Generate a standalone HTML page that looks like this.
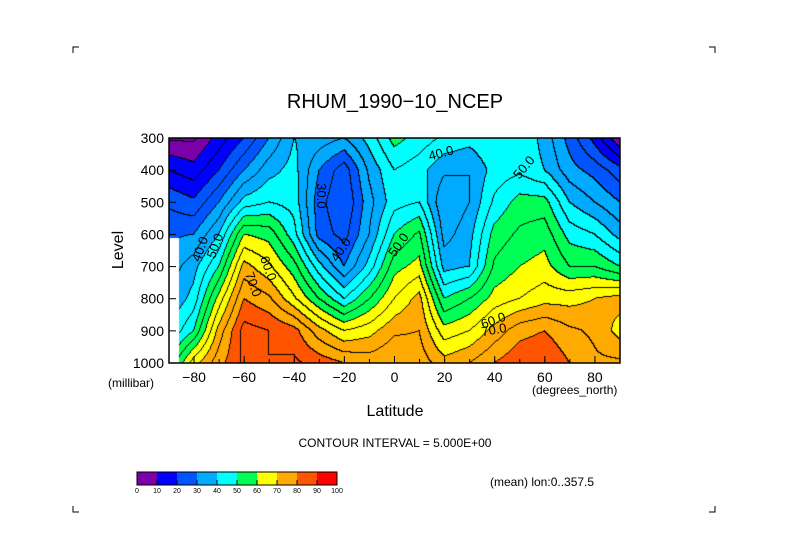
<!DOCTYPE html>
<html><head><meta charset="utf-8"><style>
body{margin:0;background:#fff;width:789px;height:558px;overflow:hidden;font-family:"Liberation Sans",sans-serif}
#wrap{position:relative;width:789px;height:558px}
canvas{position:absolute;left:169px;top:138px}
svg{position:absolute;left:0;top:0}
</style></head><body>
<div id="wrap">
<canvas id="cv" width="451" height="225"></canvas>
<svg id="sv" width="789" height="558"></svg>
</div>
<script>
const lats=[-90,-80,-70,-60,-50,-40,-30,-20,-10,0,10,20,30,40,50,60,70,80,90];
const levels=[300,400,500,600,700,800,900,1000];
// rhum[latIndex][levelIndex]
const rhum=[
[4,15,24,29,32,35,40,50],
[4,12,21,30,38,42,50,68],
[12,20,30,40,50,62,72,78],
[20,30,42,60,72,80,87,86],
[30,38,45,58,66,76,85,85],
[40,42,43,47,57,66,82,86],
[38,30,27,28,42,55,72,83],
[35,22,20,23,30,45,65,80],
[42,36,33,35,42,55,68,78],
[52,45,43,50,58,65,74,80],
[48,42,45,56,62,72,75,78],
[44,36,30,33,38,50,62,72],
[42,35,35,38,40,55,65,75],
[45,42,46,52,56,62,72,80],
[45,44,52,56,60,65,78,84],
[38,40,52,58,62,68,80,85],
[28,32,40,48,55,68,76,80],
[18,28,35,45,55,70,74,76],
[5,22,30,38,50,72,68,76]];
const colorbarTicks=[0,10,20,30,40,50,60,70,80,90,100];
const xTicks=[-80,-60,-40,-20,0,20,40,60,80];
const yTicks=[300,400,500,600,700,800,900,1000];
const maskLat=-86, maskLev=610;
const colors=['#7c00aa','#0000ff','#0055ff','#00aaff','#00ffff','#00ff55','#ffff00','#ffaa00','#ff5500','#ff0000'];
const X0=169,X1=620,Y0=138,Y1=363;
const xs=l=>X0+(l+90)/180*(X1-X0);
const ys=p=>Y0+(p-300)/700*(Y1-Y0);
function val(lat,p){
  let i=Math.min(lats.length-2,Math.max(0,Math.floor((lat-lats[0])/10)));
  let j=Math.min(levels.length-2,Math.max(0,Math.floor((p-levels[0])/100)));
  let tx=(lat-lats[i])/10, ty=(p-levels[j])/100;
  return rhum[i][j]*(1-tx)*(1-ty)+rhum[i+1][j]*tx*(1-ty)+rhum[i][j+1]*(1-tx)*ty+rhum[i+1][j+1]*tx*ty;
}
const cv=document.getElementById('cv'),ctx=cv.getContext('2d');
const W=cv.width,H=cv.height;
const img=ctx.createImageData(W,H);
const band5=new Int16Array(W*H);
for(let y=0;y<H;y++)for(let x=0;x<W;x++){
  const lat=-90+(x+0.5)/W*180,p=300+(y+0.5)/H*700;
  const k=y*W+x;
  if(lat<maskLat&&p>maskLev){band5[k]=-1;continue;}
  const v=val(lat,p);band5[k]=Math.floor(v/5);
}
for(let y=0;y<H;y++)for(let x=0;x<W;x++){
  const k=y*W+x,b=band5[k];let c=[255,255,255];
  if(b>=0){
    const ci=Math.max(0,Math.min(9,Math.floor(b/2)));const h=colors[ci];
    c=[parseInt(h.substr(1,2),16),parseInt(h.substr(3,2),16),parseInt(h.substr(5,2),16)];
    if((x+1<W&&band5[k+1]>=0&&band5[k+1]!==b)||(y+1<H&&band5[k+W]>=0&&band5[k+W]!==b))c=[0,0,0];
  }
  img.data[k*4]=c[0];img.data[k*4+1]=c[1];img.data[k*4+2]=c[2];img.data[k*4+3]=255;
}
ctx.putImageData(img,0,0);
const sv=document.getElementById('sv');const NS='http://www.w3.org/2000/svg';
function el(t,a,txt){const e=document.createElementNS(NS,t);for(const k in a)e.setAttribute(k,a[k]);if(txt!==undefined)e.textContent=txt;sv.appendChild(e);return e;}
let e;
e=el('rect',{x:X0,y:Y0,width:X1-X0,height:Y1-Y0,fill:'none',stroke:'#000','stroke-width':1.5});

xTicks.forEach(t=>{
  e=el('line',{x1:xs(t),x2:xs(t),y1:Y1,y2:Y1-7,stroke:'#000'});
  e=el('text',{x:xs(t),y:Y1+19,'text-anchor':'middle','font-size':14},String(t).replace('-','\u2212'));
  
});
for(let t=-90;t<=90;t+=10){e=el('line',{x1:xs(t),x2:xs(t),y1:Y1,y2:Y1-4,stroke:'#000'});}
yTicks.forEach(t=>{
  e=el('line',{x1:X0,x2:X0+7,y1:ys(t),y2:ys(t),stroke:'#000'});
  e=el('text',{x:X0-5,y:ys(t)+5,'text-anchor':'end','font-size':14},String(t));
  
});
[['30.0',-31,480,90],['40.0',-76,650,-70],['50.0',-70,640,-70],['40.0',-20,655,-55],['50.0',3,640,-55],['60.0',-52,710,70],['70.0',-58,760,70],['40.0',19,360,-15],['50.0',53,400,-50],['60.0',40,880,-20],['70.0',40,910,-10]].forEach(l=>{
  const x=xs(l[1]),y=ys(l[2]);
  e=el('text',{x:x,y:y,'font-size':13,'text-anchor':'middle',transform:`rotate(${l[3]} ${x} ${y})`},l[0]);
  
});
const CB0=137,CB1=337;
for(let i=0;i<10;i++){
  e=el('rect',{x:CB0+i*(CB1-CB0)/10,y:472,width:(CB1-CB0)/10,height:13,fill:colors[i]});
  
}
e=el('rect',{x:CB0,y:472,width:CB1-CB0,height:13,fill:'none',stroke:'#000'});
colorbarTicks.forEach((t,i)=>{
  const x=CB0+i*(CB1-CB0)/10;
  e=el('line',{x1:x,x2:x,y1:480,y2:485,stroke:'#000'});
  e=el('text',{x:x,y:493,'text-anchor':'middle','font-size':7},String(t));
});
[['RHUM_1990\u221210_NCEP',395,108,20,'middle','title'],['(millibar)',108,387,12,'start','y-axis-units'],['(degrees_north)',532,394,12,'start','x-axis-units'],['Latitude',395,416,16,'middle','x-axis-title'],['CONTOUR INTERVAL = 5.000E+00',395,447,12,'middle','contour-interval-note'],['(mean) lon:0..357.5',490,486,12,'start','lon-note']].forEach(t=>{
  e=el('text',{x:t[1],y:t[2],'font-size':t[3],'text-anchor':t[4]},t[0]);
});
e=el('text',{x:123,y:250,'font-size':16,'text-anchor':'middle',transform:'rotate(-90 123 250)'},'Level');

[[73,47,1,1],[715,47,-1,1],[73,512,1,-1],[715,512,-1,-1]].forEach(c=>{
  e=el('path',{d:`M${c[0]} ${c[1]+6*c[3]} V${c[1]} H${c[0]+6*c[2]}`,fill:'none',stroke:'#000'});
  
});
</script>
</body></html>
